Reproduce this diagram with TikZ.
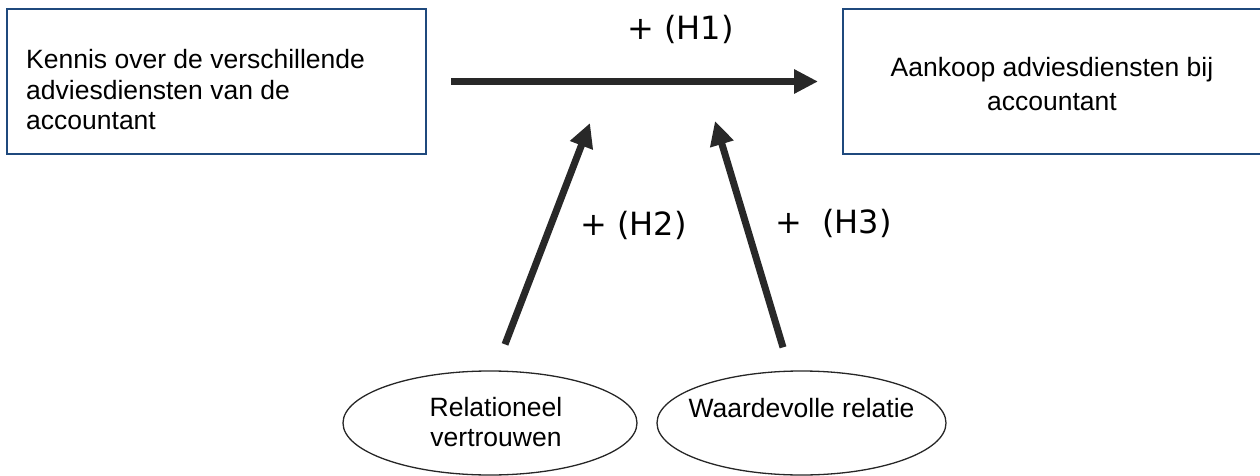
\documentclass[tikz,border=0pt]{standalone}
\usepackage{fontspec}
\setmainfont{Liberation Sans}
\newfontfamily\dvfont{DejaVu Sans}
\usetikzlibrary{arrows.meta,shapes.geometric}
\definecolor{boxblue}{RGB}{31,73,125}
\definecolor{arrowgray}{RGB}{40,40,40}
\begin{document}
\begin{tikzpicture}[x=1pt,y=-1pt,
  boxnode/.style={draw=boxblue,line width=2pt,rectangle,inner sep=0pt},
  ovalnode/.style={draw=black!85,line width=1.3pt,ellipse,inner sep=0pt},
  boxtext/.style={inner sep=0pt,font=\fontsize{26.5}{30.5}\selectfont},
  hyplabel/.style={inner sep=0pt,anchor=base west,font=\dvfont\fontsize{32}{38}\selectfont},
  bigarrow/.style={draw=arrowgray,line width=7pt,-{Triangle[length=24pt,width=23pt]}}]
\useasboundingbox (0,0) rectangle (1260,476);
% boxes
\node[boxnode,minimum width=419pt,minimum height=145pt] (lbox) at (216.5,81.5) {};
\node[boxnode,minimum width=420pt,minimum height=145pt] (rbox) at (1053,81.5) {};
\node[boxtext,anchor=base west,align=left] (ltext) at (26,129.5)
  {Kennis over de verschillende\\adviesdiensten van de\\accountant};
\node[boxtext,anchor=base,align=center,font=\fontsize{26.5}{35}\selectfont] (rtext) at (1052,111)
  {Aankoop adviesdiensten bij\\accountant};
% ellipses
\node[ovalnode,minimum width=294pt,minimum height=104pt] (rel) at (490,423) {};
\node[ovalnode,minimum width=289pt,minimum height=104pt] (wr) at (801.5,423) {};
\node[boxtext,anchor=base,align=center,font=\fontsize{26.5}{29.5}\selectfont] (reltext) at (496,446)
  {Relationeel\\vertrouwen};
\node[boxtext,anchor=base] (wrtext) at (801.5,417) {Waardevolle relatie};
% arrows
\draw[bigarrow,shorten <=24pt,shorten >=24pt] (lbox) -- (rbox);
\coordinate (h2tip) at (590,123);
\coordinate (h3tip) at (715,121);
\coordinate (h2tail) at ([shift={(15,-26)}]rel.north);
\coordinate (h3tail) at ([shift={(-18.5,-23)}]wr.north);
\draw[bigarrow] (h2tail) -- (h2tip);
\draw[bigarrow] (h3tail) -- (h3tip);
% labels
\node[hyplabel] (h1) at (627,40) {+ (H1)};
\node[hyplabel] (h2) at (580,235) {+ (H2)};
\node[hyplabel] (h3) at (775,233) {+~~(H3)};
\end{tikzpicture}
\end{document}
